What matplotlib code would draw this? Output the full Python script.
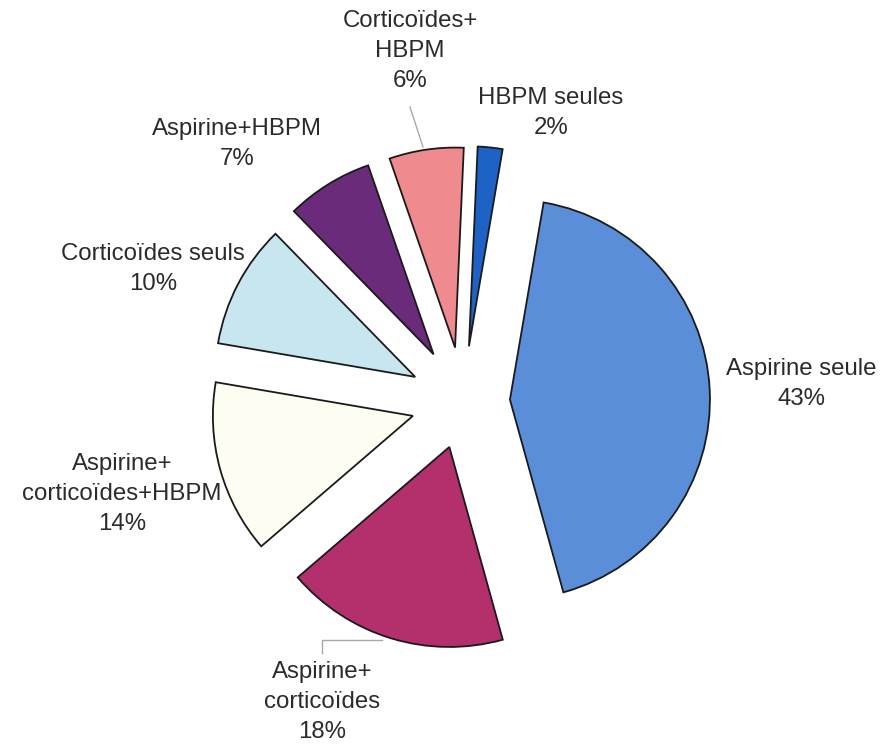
import matplotlib
matplotlib.use("Agg")
import matplotlib.pyplot as plt

# ---- data ----
categories = ["HBPM seules", "Aspirine seule", "Aspirine+\ncorticoïdes",
              "Aspirine+\ncorticoïdes+HBPM", "Corticoïdes seuls",
              "Aspirine+HBPM", "Corticoïdes+\nHBPM"]
values = [2, 43, 18, 14, 10, 7, 6]

# ---- style / layout ----
colors = ["#1f62c6", "#5b8ed8", "#b3306d", "#fdfdf2", "#c8e6ef", "#6b2b7b", "#ef8a8f"]
explode = [0.28, 0.235, 0.235, 0.26, 0.27, 0.28, 0.275]
# label centers in pixel coords of the 882x746 image
label_px = [(551, 113), (801, 384), (322, 702), (122, 494), (153, 269), (237, 144), (410, 51)]

W, H = 882, 746
CX, CY, R = 463, 402, 200.0

def to_data(px, py):
    return (px - CX) / R, (CY - py) / R

plt.rcParams['font.family'] = ['Liberation Sans', 'DejaVu Sans']
fig = plt.figure(figsize=(W / 100, H / 100), dpi=100)
ax = fig.add_axes([0, 0, 1, 1])

ax.pie(values, explode=explode, colors=colors, startangle=87.5, counterclock=False,
       radius=1, wedgeprops=dict(edgecolor="#1a1a1a", linewidth=1.3))

ax.set_xlim(-CX / R, (W - CX) / R)
ax.set_ylim(-(H - CY) / R, CY / R)
ax.set_aspect('equal')
ax.axis('off')

for cat, v, (px, py) in zip(categories, values, label_px):
    x, y = to_data(px, py)
    ax.text(x, y, f"{cat}\n{v}%", ha="center", va="center", multialignment="center",
            fontsize=17.3, color="#2b2b2b", linespacing=1.47)

# leader lines
lc = "#a8a8a8"
p1, p2 = to_data(410, 107), to_data(423, 147)
ax.plot([p1[0], p2[0]], [p1[1], p2[1]], color=lc, lw=1)
q1, q2, q3 = to_data(322, 653), to_data(322, 640), to_data(382, 640)
ax.plot([q1[0], q2[0], q3[0]], [q1[1], q2[1], q3[1]], color=lc, lw=1)

fig.savefig("out.png", dpi=100)
